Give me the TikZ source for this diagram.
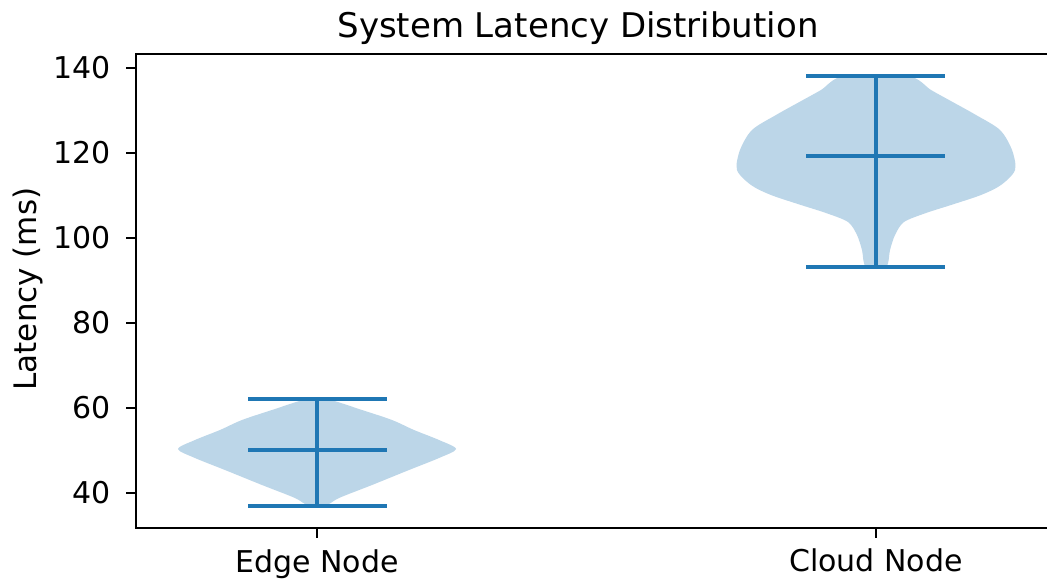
\documentclass[tikz,border=0pt]{standalone}
\usepackage{fontspec}
\setmainfont{DejaVu Sans}
\definecolor{czero}{HTML}{1F77B4}
\definecolor{vfill}{HTML}{BCD6E8}
\begin{document}
\begin{tikzpicture}[x=1pt,y=-1pt,
  spine/.style={line width=2.4pt,black,line cap=rect},
  tickmark/.style={line width=2pt,black},
  ticklbl/.style={inner sep=0pt,font=\fontsize{30}{36}\selectfont},
  violin/.style={fill=vfill,draw=none},
  statline/.style={line width=4pt,czero}]
\fill[white] (0,0) rectangle (1047,581);
\useasboundingbox (0,0) rectangle (1047,581);

% violins
\fill[violin] plot[smooth cycle] coordinates {
  (327,399) (362,410) (392,420) (414,430) (439,440) (456,449) (439,458) (409,470) (372,485) (339,498) (325,506)
  (309,506) (295,498) (262,485) (225,470) (195,458) (178,449) (195,440) (220,430) (242,420) (272,410) (307,399)};
\fill[violin] plot[smooth cycle] coordinates {
  (908,76) (931,90) (949,100) (976,115) (1000,130) (1012,150) (1015,170) (1001,185) (981,195) (951,205) (926,213) (904,222) (895,235) (890,250) (886,267)
  (866,267) (862,250) (857,235) (848,222) (826,213) (801,205) (771,195) (751,185) (737,170) (740,150) (752,130) (776,115) (803,100) (821,90) (844,76)};

% stat lines
\coordinate (emax) at (317,399);
\coordinate (emin) at (317,506);
\coordinate (cmax) at (876,76);
\coordinate (cmin) at (876,267);
\draw[statline] (emax) -- (emin);
\draw[statline] (248,399) -- (387,399);
\draw[statline] (248,450) -- (387,450);
\draw[statline] (248,506) -- (387,506);
\draw[statline] (cmax) -- (cmin);
\draw[statline] (806,76) -- (945,76);
\draw[statline] (806,156) -- (945,156);
\draw[statline] (806,267) -- (945,267);

% spines
\coordinate (tl) at (136,54);
\coordinate (bl) at (136,528);
\coordinate (br) at (1050,528);
\coordinate (tr) at (1050,54);
\draw[spine] (tr) -- (tl) -- (bl) -- (br);

% y ticks
\foreach \v/\y in {140/68,120/153,100/238,80/323,60/408,40/493}{
  \draw[tickmark] (126,\y) -- (136,\y);
  \node[ticklbl,anchor=east] (yt\v) at (111,\y) {\v};
}
% x ticks
\draw[tickmark] (317,528) -- (317,538);
\draw[tickmark] (876,528) -- (876,538);
\node[ticklbl,anchor=base] (xedge) at (317,572) {Edge Node};
\node[ticklbl,anchor=base] (xcloud) at (876,571) {Cloud Node};

% labels
\node[inner sep=0pt,anchor=base,rotate=90,font=\fontsize{31}{37}\selectfont] (ylab) at (36,289) {Latency (ms)};
\node[inner sep=0pt,anchor=base,font=\fontsize{34}{40}\selectfont] (title) at (578,37) {System Latency Distribution};
\end{tikzpicture}
\end{document}
